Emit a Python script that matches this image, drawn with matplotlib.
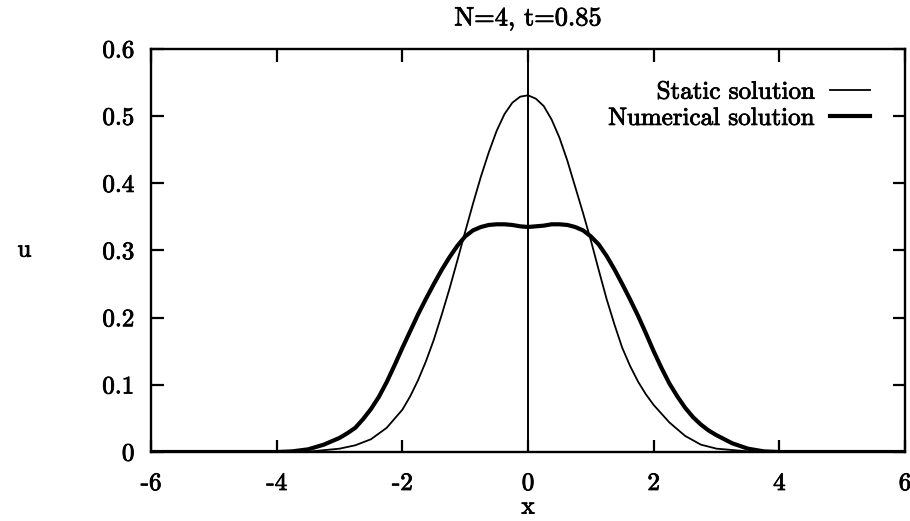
import matplotlib
matplotlib.use("Agg")
import matplotlib.pyplot as plt
import matplotlib.patheffects as pe

# values
x_static = [-6.0, -4.0, -3.5, -3.0, -2.75, -2.5, -2.25, -2.0, -1.875, -1.75, -1.625, -1.5,
            -1.375, -1.25, -1.125, -1.0, -0.875, -0.75, -0.625, -0.5, -0.375, -0.25, -0.125,
            0.0, 0.125, 0.25, 0.375, 0.5, 0.625, 0.75, 0.875, 1.0, 1.125, 1.25, 1.375,
            1.5, 1.625, 1.75, 1.875, 2.0, 2.25, 2.5, 2.75, 3.0, 3.5, 4.0, 6.0]
u_static = [0.0, 0.0, 0.0005, 0.005, 0.01, 0.019, 0.036, 0.063, 0.083, 0.107, 0.135, 0.167,
            0.204, 0.243, 0.285, 0.328, 0.37, 0.41, 0.446, 0.478, 0.503, 0.52, 0.529,
            0.531, 0.526, 0.515, 0.495, 0.468, 0.434, 0.395, 0.356, 0.315, 0.271, 0.228, 0.19,
            0.155, 0.128, 0.105, 0.086, 0.07, 0.044, 0.024, 0.011, 0.005, 0.001, 0.0, 0.0]

x_num = [-6.0, -4.0, -3.75, -3.5, -3.25, -3.0, -2.875, -2.75, -2.625, -2.5, -2.375, -2.25,
         -2.125, -2.0, -1.875, -1.75, -1.625, -1.5, -1.375, -1.25, -1.125, -1.0, -0.875,
         -0.75, -0.625, -0.5, -0.375, -0.25, -0.125, 0.0, 0.125, 0.25, 0.375, 0.5, 0.625,
         0.75, 0.875, 1.0, 1.125, 1.25, 1.375, 1.5, 1.625, 1.75, 1.875, 2.0, 2.125, 2.25,
         2.375, 2.5, 2.625, 2.75, 2.875, 3.0, 3.25, 3.5, 3.75, 4.0, 6.0]
u_num = [0.0, 0.0, 0.001, 0.004, 0.011, 0.021, 0.028, 0.036, 0.049, 0.064, 0.082, 0.104,
         0.129, 0.155, 0.18, 0.205, 0.228, 0.25, 0.271, 0.29, 0.307, 0.321, 0.33,
         0.335, 0.338, 0.339, 0.339, 0.338, 0.336, 0.335, 0.336, 0.337, 0.339, 0.339, 0.338,
         0.335, 0.33, 0.321, 0.309, 0.292, 0.272, 0.25, 0.227, 0.203, 0.177, 0.15, 0.125, 0.102,
         0.083, 0.066, 0.052, 0.041, 0.032, 0.025, 0.013, 0.005, 0.001, 0.0, 0.0]

xticks = [-6, -4, -2, 0, 2, 4, 6]
yticks = [0, 0.1, 0.2, 0.3, 0.4, 0.5, 0.6]
yticklabels = ['0', '0.1', '0.2', '0.3', '0.4', '0.5', '0.6']

plt.rcParams['font.family'] = ['cmr10', 'DejaVu Serif']
plt.rcParams['axes.unicode_minus'] = False
plt.rcParams['font.size'] = 18

fig = plt.figure(figsize=(9.10, 5.21), dpi=100)
ax = fig.add_axes([0.166, 0.1324, 0.8285, 0.7736])

ax.axvline(0, color='black', lw=1.4)
ax.plot(x_static, u_static, color='black', lw=1.3, solid_joinstyle='round',
        label='Static solution')
ax.plot(x_num, u_num, color='black', lw=3.0, solid_joinstyle='round',
        label='Numerical solution')

ax.set_xlim(-6, 6)
ax.set_ylim(0, 0.6)
ax.set_xticks(xticks)
ax.set_xticklabels([str(t) for t in xticks])
ax.set_yticks(yticks)
ax.set_yticklabels(yticklabels)
ax.tick_params(direction='in', top=True, right=True, length=9, width=1.6)
ax.tick_params(axis='x', pad=15)
ax.tick_params(axis='y', pad=12)
for s in ax.spines.values():
    s.set_linewidth(1.7)

ax.set_title('N=4, t=0.85', pad=17, fontsize=19)
ax.set_xlabel('x', labelpad=1)
ax.set_ylabel('u', rotation=0, labelpad=56, va='center')

leg = ax.legend(loc='upper right', frameon=False, markerfirst=False, handlelength=1.6,
                borderaxespad=0.0, labelspacing=0.15, handletextpad=0.6,
                bbox_to_anchor=(0.967, 0.945))

# scanned print looks a little heavier than plain cmr10
bold = [pe.withStroke(linewidth=0.6, foreground='black')]
texts = ax.get_xticklabels() + ax.get_yticklabels() + leg.get_texts()
texts += [ax.title, ax.xaxis.label, ax.yaxis.label]
for t in texts:
    t.set_path_effects(bold)

fig.savefig('out.png', dpi=100)
